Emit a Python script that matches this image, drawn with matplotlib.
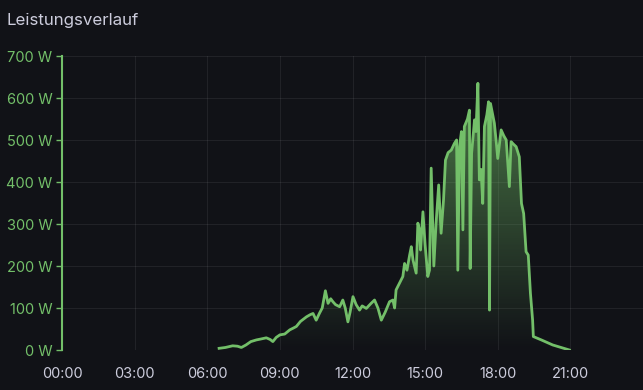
import numpy as np
import matplotlib.pyplot as plt
from matplotlib.patches import Polygon
from matplotlib.colors import LinearSegmentedColormap

plt.rcParams['font.family'] = ['Inter', 'DejaVu Sans']

bg = '#111217'
green = '#73bf69'

title = 'Leistungsverlauf'
hours = [6.49, 6.75, 7.05, 7.25, 7.41, 7.6, 7.8, 8.03, 8.2, 8.44, 8.6, 8.71, 8.85, 9.0, 9.2,
         9.41, 9.55, 9.68, 9.85, 10.1, 10.25, 10.37, 10.5, 10.64, 10.75, 10.88, 10.99, 11.1,
         11.19, 11.3, 11.47, 11.6, 11.7, 11.81, 11.9, 12.02, 12.15, 12.29, 12.4, 12.57, 12.75,
         12.91, 13.05, 13.19, 13.35, 13.53, 13.67, 13.74, 13.8, 13.94, 14.08, 14.15, 14.25,
         14.36, 14.43, 14.5, 14.63, 14.7, 14.77, 14.81, 14.91, 15.0, 15.11, 15.18, 15.25,
         15.36, 15.45, 15.56, 15.66, 15.76, 15.84, 15.95, 16.08, 16.21, 16.3, 16.35, 16.42,
         16.5, 16.56, 16.62, 16.75, 16.83, 16.86, 16.92, 17.04, 17.1, 17.18, 17.24, 17.31,
         17.38, 17.45, 17.55, 17.62, 17.66, 17.7, 17.86, 17.93, 18.0, 18.07, 18.14, 18.25,
         18.35, 18.48, 18.55, 18.65, 18.76, 18.89, 18.98, 19.07, 19.17, 19.26, 19.35, 19.44,
         19.47, 19.8, 20.27, 20.96]
watts = [4, 6, 10, 9, 6, 12, 20, 24, 26, 29, 25, 20, 30, 36, 38,
         48, 52, 56, 68, 79, 84, 87, 71, 88, 100, 141, 111, 122,
         115, 108, 103, 119, 100, 67, 90, 127, 108, 95, 105, 99, 110,
         119, 100, 71, 90, 115, 119, 100, 143, 159, 175, 206, 190,
         226, 246, 214, 183, 302, 286, 238, 329, 250, 175, 190, 433,
         200, 300, 393, 278, 357, 452, 470, 476, 492, 500, 190, 484,
         520, 286, 532, 550, 571, 194, 468, 548, 520, 635, 405, 430,
         349, 532, 560, 591, 95, 587, 540, 500, 456, 490, 524, 510,
         500, 389, 496, 490, 484, 460, 349, 325, 234, 226, 135, 71,
         32, 24, 12, 0]
xticks = [0, 3, 6, 9, 12, 15, 18, 21]
xlabels = ['00:00', '03:00', '06:00', '09:00', '12:00', '15:00', '18:00', '21:00']
yticks = [0, 100, 200, 300, 400, 500, 600, 700]

fig = plt.figure(figsize=(6.43, 3.90), dpi=100, facecolor=bg)
ax = fig.add_axes([62/643, 1-350/390, 1-62/643, 294/390])
ax.set_facecolor(bg)

# gradient fill under the curve
cmap = LinearSegmentedColormap.from_list('g', [(0.45, 0.75, 0.41, 0.0), (0.45, 0.75, 0.41, 0.6)])
grad = np.linspace(0, 1, 256).reshape(-1, 1)
im = ax.imshow(grad, cmap=cmap, aspect='auto', origin='lower',
               extent=[hours[0], hours[-1], 0, max(watts)], zorder=2)
verts = [(hours[0], 0)] + list(zip(hours, watts)) + [(hours[-1], 0)]
clip = Polygon(verts, closed=True, transform=ax.transData, facecolor='none', edgecolor='none')
ax.add_patch(clip)
im.set_clip_path(clip)

ax.plot(hours, watts, color=green, lw=2.0, zorder=3, solid_joinstyle='round')

ax.set_xlim(0, 24)
ax.set_ylim(0, 700)
ax.set_xticks(xticks)
ax.set_xticklabels(xlabels)
ax.set_yticks(yticks)
ax.set_yticklabels([f'{v} W' for v in yticks])
ax.grid(True, color='#ffffff', alpha=0.07, lw=0.8)
ax.set_axisbelow(True)

for s in ['top', 'right', 'bottom']:
    ax.spines[s].set_visible(False)
ax.spines['left'].set_color(green)
ax.spines['left'].set_linewidth(1.5)

ax.tick_params(axis='y', colors=green, length=4, width=1, labelsize=10.5, pad=3)
ax.tick_params(axis='x', colors='#ccccdc', length=0, labelsize=10.5, pad=12)
for lab in ax.get_yticklabels():
    lab.set_color(green)

fig.text(7/643, 1-20/390, title, color='#ccccdc', fontsize=12.2, va='center', ha='left')

fig.savefig('out.png', dpi=100, facecolor=bg)
